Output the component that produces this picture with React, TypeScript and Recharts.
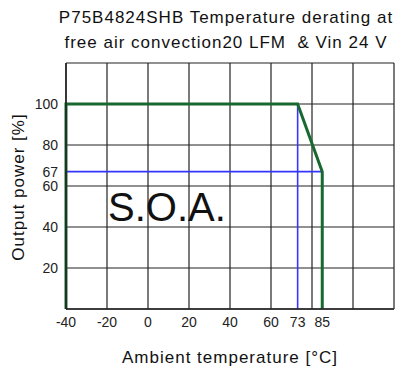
import * as React from "react";
import {
  LineChart,
  Line,
  XAxis,
  YAxis,
  ReferenceLine,
} from "recharts";

// derating curve (ambient temperature °C -> output power %)
const deratingCurve = [
  { x: -40, y: 0 },
  { x: -40, y: 100 },
  { x: 73, y: 100 },
  { x: 85, y: 67 },
  { x: 85, y: 0 },
];

// blue guide lines
const guide67 = [
  { x: -40, y: 67 },
  { x: 85, y: 67 },
];
const guide73 = [
  { x: 73, y: 100 },
  { x: 73, y: 0 },
];

const xTicks = [-40, -20, 0, 20, 40, 60, 73, 85];
const yTicks = [20, 40, 60, 67, 80, 100];
const xGrid = [-40, -20, 0, 20, 40, 60, 80, 100, 120];
const yGrid = [0, 20, 40, 60, 80, 100, 120];

const FONT = "'Liberation Sans', Arial, sans-serif";

export default function App() {
  return (
    <div
      style={{
        position: "absolute",
        left: 0,
        top: 0,
        width: 399,
        height: 372,
        background: "#fff",
        fontFamily: FONT,
      }}
    >
      <div
        style={{
          position: "absolute",
          left: 26,
          width: 400,
          top: 5,
          textAlign: "center",
          fontSize: 17,
          letterSpacing: 1.0,
          lineHeight: "25px",
          color: "#111",
          whiteSpace: "nowrap",
        }}
      >
        P75B4824SHB Temperature derating at
        <br />
        free air convection20 LFM&nbsp; &amp; Vin 24 V
      </div>

      <LineChart
        width={399}
        height={372}
        margin={{ top: 63, right: 5, bottom: 0, left: 0 }}
        style={{ position: "absolute", left: 0, top: 0 }}
      >
        <XAxis
          type="number"
          dataKey="x"
          domain={[-40, 120]}
          ticks={xTicks}
          tickLine={false}
          axisLine={{ stroke: "#222", strokeWidth: 1.5 }}
          tick={{ fill: "#222", fontSize: 14, fontFamily: FONT }}
          interval={0}
          allowDuplicatedCategory={false}
          label={{
            value: "Ambient temperature [°C]",
            position: "insideBottom",
            offset: 9,
            fill: "#111",
            fontSize: 17,
            letterSpacing: 1,
            fontFamily: FONT,
          }}
          height={63}
        />
        <YAxis
          type="number"
          dataKey="y"
          domain={[0, 120]}
          ticks={yTicks}
          tickLine={false}
          axisLine={{ stroke: "#222", strokeWidth: 1.5 }}
          tick={{ fill: "#222", fontSize: 14, fontFamily: FONT }}
          interval={0}
          width={66}
        />

        {xGrid.map((v) => (
          <ReferenceLine key={"gx" + v} x={v} stroke="#222" strokeWidth={1.2} ifOverflow="extendDomain" />
        ))}
        {yGrid.map((v) => (
          <ReferenceLine key={"gy" + v} y={v} stroke="#222" strokeWidth={1.2} ifOverflow="extendDomain" />
        ))}

        <Line
          data={guide67}
          dataKey="y"
          type="linear"
          stroke="#3535ff"
          strokeWidth={1.6}
          dot={false}
          isAnimationActive={false}
        />
        <Line
          data={guide73}
          dataKey="y"
          type="linear"
          stroke="#3535ff"
          strokeWidth={1.6}
          dot={false}
          isAnimationActive={false}
        />
        <Line
          data={deratingCurve}
          dataKey="y"
          type="linear"
          stroke="#17692f"
          strokeWidth={3}
          dot={false}
          isAnimationActive={false}
        />
      </LineChart>

      <div
        style={{
          position: "absolute",
          left: 19,
          top: 187,
          transform: "translate(-50%, -50%) rotate(-90deg)",
          fontSize: 17,
          letterSpacing: 1,
          color: "#111",
          whiteSpace: "nowrap",
        }}
      >
        Output power [%]
      </div>

      <div
        style={{
          position: "absolute",
          left: 108,
          top: 184,
          fontSize: 40,
          lineHeight: "46px",
          color: "#111",
        }}
      >
        S.O.A.
      </div>
    </div>
  );
}
